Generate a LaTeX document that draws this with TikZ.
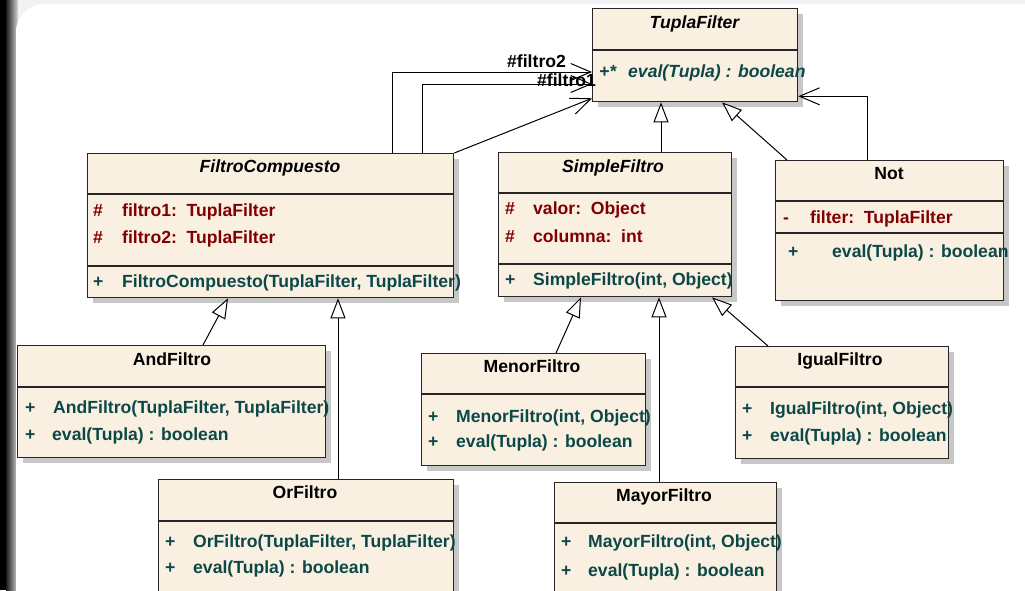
\documentclass[tikz,border=0pt]{standalone}
\usepackage{fontspec}
\setmainfont{Liberation Sans}
\usetikzlibrary{arrows.meta,shadows}

\definecolor{fondoclase}{RGB}{250,240,226}
\definecolor{colatrib}{RGB}{128,0,0}
\definecolor{colmetodo}{RGB}{12,72,72}

\begin{document}
\begin{tikzpicture}[x=1pt,y=-1pt,
    clase/.style={draw=black!85, line width=1.3pt, fill=fondoclase, anchor=north west,
      inner sep=0pt, drop shadow={shadow xshift=5pt, shadow yshift=-5pt, fill=black!22, opacity=1}},
    divisor/.style={draw=black!85, line width=1.2pt},
    texto/.style={inner sep=0pt, font=\fontsize{17.6}{20}\selectfont\bfseries},
    titulo/.style={texto, anchor=base},
    atrib/.style={texto, anchor=base west, text=colatrib},
    metodo/.style={texto, anchor=base west, text=colmetodo},
    rol/.style={texto, anchor=base west},
    herencia/.style={line width=1pt, -{Triangle[length=20pt, width=15pt, fill=white]}},
    asoc/.style={line width=1pt, -{Straight Barb[length=20pt, width=17pt]}}
  ]
  % Marco de la diapositiva
  \useasboundingbox (0,0) rectangle (1025,590);
  \clip (0,0) rectangle (1025,590);
  \fill[gray!10] (0,0) rectangle (1025,590);
  \fill[black] (0,0) rectangle (6,590);
  \shade[left color=black!90, right color=gray!30] (6,0) rectangle (18,590);
  \fill[white, rounded corners=28pt] (16,4) rectangle (1060,640);

  % TuplaFilter
  \node[clase, minimum width=205pt, minimum height=93pt] (tupla) at (592,8) {};
  \draw[divisor] (tupla.west |- 0,50) -- (tupla.east |- 0,50);
  \node[titulo] (tuplaT) at (694.5,28) {\itshape TuplaFilter};
  \node[metodo] (tuplaM) at (599,77) {\itshape\makebox[29pt][l]{+*}eval(Tupla) : boolean};

  % FiltroCompuesto
  \node[clase, minimum width=366pt, minimum height=144pt] (comp) at (87,153) {};
  \draw[divisor] (comp.west |- 0,194) -- (comp.east |- 0,194);
  \draw[divisor] (comp.west |- 0,266) -- (comp.east |- 0,266);
  \node[titulo] (compT) at (270,172) {\itshape FiltroCompuesto};
  \node[atrib] (compA1) at (93,216) {\makebox[29pt][l]{\#}filtro1:\ \ TuplaFilter};
  \node[atrib] (compA2) at (93,243) {\makebox[29pt][l]{\#}filtro2:\ \ TuplaFilter};
  \node[metodo] (compM) at (93,287) {\makebox[29pt][l]{+}FiltroCompuesto(TuplaFilter, TuplaFilter)};

  % SimpleFiltro
  \node[clase, minimum width=233pt, minimum height=144pt] (simple) at (498,152) {};
  \draw[divisor] (simple.west |- 0,193) -- (simple.east |- 0,193);
  \draw[divisor] (simple.west |- 0,264) -- (simple.east |- 0,264);
  \node[titulo] (simpleT) at (613,172) {\itshape SimpleFiltro};
  \node[atrib] (simpleA1) at (505,214) {\makebox[28pt][l]{\#}valor:\ \ Object};
  \node[atrib] (simpleA2) at (505,242) {\makebox[28pt][l]{\#}columna:\ \ int};
  \node[metodo] (simpleM) at (505,285) {\makebox[28pt][l]{+}SimpleFiltro(int, Object)};

  % Not
  \node[clase, minimum width=228pt, minimum height=140pt] (not) at (775,160) {};
  \draw[divisor] (not.west |- 0,201) -- (not.east |- 0,201);
  \draw[divisor] (not.west |- 0,233) -- (not.east |- 0,233);
  \node[titulo] (notT) at (889,179) {Not};
  \node[atrib] (notA) at (783,223) {\makebox[27pt][l]{-}filter:\ \ TuplaFilter};
  \node[metodo] (notM) at (788,257) {\makebox[44pt][l]{+}eval(Tupla) : boolean};

  % AndFiltro
  \node[clase, minimum width=308pt, minimum height=112pt] (and) at (17,345) {};
  \draw[divisor] (and.west |- 0,387) -- (and.east |- 0,387);
  \node[titulo] (andT) at (172,365) {AndFiltro};
  \node[metodo] (andM1) at (25,413) {\makebox[28pt][l]{+}AndFiltro(TuplaFilter, TuplaFilter)};
  \node[metodo] (andM2) at (25,440) {\makebox[27pt][l]{+}eval(Tupla) : boolean};

  % MenorFiltro
  \node[clase, minimum width=224pt, minimum height=112pt] (menor) at (421,353) {};
  \draw[divisor] (menor.west |- 0,394) -- (menor.east |- 0,394);
  \node[titulo] (menorT) at (532,372) {MenorFiltro};
  \node[metodo] (menorM1) at (428,422) {\makebox[28pt][l]{+}MenorFiltro(int, Object)};
  \node[metodo] (menorM2) at (428,447) {\makebox[28pt][l]{+}eval(Tupla) : boolean};

  % IgualFiltro
  \node[clase, minimum width=213pt, minimum height=112pt] (igual) at (735,346) {};
  \draw[divisor] (igual.west |- 0,387) -- (igual.east |- 0,387);
  \node[titulo] (igualT) at (840,365) {IgualFiltro};
  \node[metodo] (igualM1) at (742,414) {\makebox[28pt][l]{+}IgualFiltro(int, Object)};
  \node[metodo] (igualM2) at (742,441) {\makebox[28pt][l]{+}eval(Tupla) : boolean};

  % OrFiltro
  \node[clase, minimum width=295pt, minimum height=130pt] (or) at (158,479) {};
  \draw[divisor] (or.west |- 0,521) -- (or.east |- 0,521);
  \node[titulo] (orT) at (305,498) {OrFiltro};
  \node[metodo] (orM1) at (165,547) {\makebox[28pt][l]{+}OrFiltro(TuplaFilter, TuplaFilter)};
  \node[metodo] (orM2) at (165,573) {\makebox[28pt][l]{+}eval(Tupla) : boolean};

  % MayorFiltro
  \node[clase, minimum width=222pt, minimum height=130pt] (mayor) at (554,482) {};
  \draw[divisor] (mayor.west |- 0,523) -- (mayor.east |- 0,523);
  \node[titulo] (mayorT) at (664,501) {MayorFiltro};
  \node[metodo] (mayorM1) at (561,547) {\makebox[27pt][l]{+}MayorFiltro(int, Object)};
  \node[metodo] (mayorM2) at (561,576) {\makebox[27pt][l]{+}eval(Tupla) : boolean};

  % Herencia
  \draw[herencia] ([xshift=163pt]simple.north west) -- ([xshift=163pt]simple.north west |- tupla.south);
  \draw[herencia] ([xshift=12pt]not.north west) -- ([xshift=130pt]tupla.south west);
  \draw[herencia] ([xshift=186pt]and.north west) -- ([xshift=141pt]comp.south west);
  \draw[herencia] ([xshift=180pt]or.north west) -- ([xshift=180pt]or.north west |- comp.south);
  \draw[herencia] ([xshift=135pt]menor.north west) -- ([xshift=83pt]simple.south west);
  \draw[herencia] ([xshift=105pt]mayor.north west) -- ([xshift=105pt]mayor.north west |- simple.south);
  \draw[herencia] ([xshift=33pt]igual.north west) -- ([xshift=214pt]simple.south west);

  % Asociaciones
  \draw[asoc] ([xshift=305pt]comp.north west) |- ([yshift=-64pt]tupla.north west);
  \draw[asoc] ([xshift=335pt]comp.north west) |- ([yshift=-76pt]tupla.north west);
  \draw[asoc] (comp.north east) -- ([yshift=4pt]tupla.south west);
  \draw[asoc] ([xshift=92pt]not.north west) |- ([yshift=6pt]tupla.south east);
  \node[rol] (rol2) at (507,67) {\#filtro2};
  \node[rol] (rol1) at (537,86) {\#filtro1};
\end{tikzpicture}
\end{document}
